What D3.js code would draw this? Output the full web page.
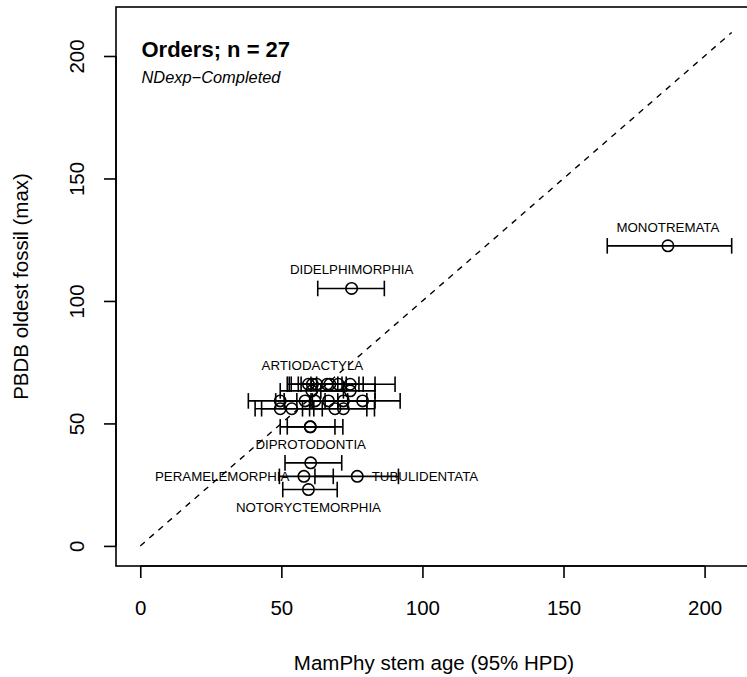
<!DOCTYPE html>
<html>
<head>
<meta charset="utf-8">
<script src="https://cdn.jsdelivr.net/npm/d3@7"></script>
<style>
  html, body { margin: 0; padding: 0; background: #fff; }
  svg { display: block; font-family: "Liberation Sans", Arial, Helvetica, sans-serif; }
</style>
</head>
<body>
<svg id="chart" width="747" height="677"></svg>
<script>
// Mammal orders: MamPhy stem age (mean and 95% HPD) vs. oldest PBDB fossil (max age, Ma).
// Only the outlying orders carry a printed name; the rest stay unlabelled.
const orders = [
  "MONOTREMATA", "DIDELPHIMORPHIA", "DIPROTODONTIA", "PERAMELEMORPHIA",
  "TUBULIDENTATA", "NOTORYCTEMORPHIA",
  "", "ARTIODACTYLA", "", "", "", "", "",
  "", "",
  "", "", "", "", "", "",
  "", "", "", "",
  "", ""
];
const stemAge = [
  187.0, 74.9, 60.4, 58.0,
  76.9, 59.6,
  59.6, 61.0, 62.5, 66.2, 67.2, 70.2, 74.4,
  60.8, 74.4,
  49.6, 58.4, 61.9, 66.7, 72.0, 78.8,
  49.6, 53.7, 69.0, 72.0,
  60.2, 60.3
];
const hpdLow = [
  165.5, 62.9, 51.3, 49.3,
  61.9, 50.5,
  52.1, 52.8, 53.5, 56.0, 57.0, 60.5, 62.5,
  49.6, 64.0,
  38.3, 48.0, 51.0, 55.5, 61.0, 65.5,
  40.7, 43.0, 57.5, 61.5,
  49.6, 52.1
];
const hpdHigh = [
  209.6, 86.5, 71.4, 68.4,
  91.5, 69.8,
  70.0, 71.5, 73.0, 77.5, 79.0, 83.2, 90.3,
  72.0, 83.2,
  60.5, 70.0, 73.5, 80.3, 83.2, 92.1,
  60.0, 64.5, 80.3, 83.0,
  69.0, 71.8
];
const fossilAge = [
  122.5, 105.1, 33.9, 28.4,
  28.4, 23.0,
  66.0, 66.0, 66.0, 66.0, 66.0, 66.0, 66.0,
  63.3, 63.3,
  59.2, 59.2, 59.2, 59.2, 59.2, 59.2,
  56.0, 56.0, 56.0, 56.0,
  48.6, 48.6
];
const xTicks = [0, 50, 100, 150, 200];
const yTicks = [0, 50, 100, 150, 200];

// Which side of its point each printed name sits on
const labelSide = {
  "MONOTREMATA": "top", "DIDELPHIMORPHIA": "top", "ARTIODACTYLA": "top",
  "DIPROTODONTIA": "top", "PERAMELEMORPHIA": "left",
  "TUBULIDENTATA": "right", "NOTORYCTEMORPHIA": "bottom"
};

const data = orders.map((name, i) => ({
  name, mean: stemAge[i], lo: hpdLow[i], hi: hpdHigh[i], fossil: fossilAge[i]
}));

const plot = { left: 116, top: 7, right: 752, bottom: 566 };
const x = d3.scaleLinear().domain([-8.6, 216.8]).range([plot.left, plot.right]);
const y = d3.scaleLinear().domain([-8.2, 220]).range([plot.bottom, plot.top]);

const svg = d3.select("#chart");
const ink = "#000";
const lw = 1.6;
const axisFont = 20.5;

// x axis
const gx = svg.append("g")
  .attr("transform", `translate(0,${plot.bottom})`)
  .call(d3.axisBottom(x).tickValues(xTicks).tickSize(12).tickSizeOuter(0).tickPadding(22));
gx.select(".domain").remove();
gx.selectAll("line").attr("stroke", ink).attr("stroke-width", lw);
gx.selectAll("text").attr("fill", ink).attr("font-size", axisFont)
  .attr("font-family", "Liberation Sans, Arial, sans-serif");
gx.append("line")
  .attr("x1", x(xTicks[0])).attr("x2", x(xTicks[xTicks.length - 1]))
  .attr("stroke", ink).attr("stroke-width", lw);

// y axis, labels turned parallel to the axis
const gy = svg.append("g")
  .attr("transform", `translate(${plot.left},0)`)
  .call(d3.axisLeft(y).tickValues(yTicks).tickSize(12).tickSizeOuter(0));
gy.select(".domain").remove();
gy.selectAll("line").attr("stroke", ink).attr("stroke-width", lw);
gy.selectAll("text")
  .attr("x", null).attr("dy", null)
  .attr("transform", "translate(-32,0) rotate(-90)")
  .attr("text-anchor", "middle")
  .attr("fill", ink).attr("font-size", axisFont)
  .attr("font-family", "Liberation Sans, Arial, sans-serif");
gy.append("line")
  .attr("y1", y(yTicks[0])).attr("y2", y(yTicks[yTicks.length - 1]))
  .attr("stroke", ink).attr("stroke-width", lw);

// axis titles
svg.append("text")
  .attr("x", (plot.left + plot.right) / 2).attr("y", 669.5)
  .attr("text-anchor", "middle").attr("font-size", axisFont).attr("fill", ink)
  .text("MamPhy stem age (95% HPD)");
svg.append("text")
  .attr("transform", `translate(28,${(plot.top + plot.bottom) / 2}) rotate(-90)`)
  .attr("text-anchor", "middle").attr("font-size", axisFont).attr("fill", ink)
  .text("PBDB oldest fossil (max)");

// 1:1 reference line
const lineEnd = d3.max(hpdHigh);
svg.append("line")
  .attr("x1", x(0)).attr("y1", y(0))
  .attr("x2", x(lineEnd)).attr("y2", y(lineEnd))
  .attr("stroke", ink).attr("stroke-width", 1.4)
  .attr("stroke-dasharray", "6,6");

// HPD bars with end caps
const capHalf = 7.8;
const bars = svg.append("g").attr("stroke", ink).attr("stroke-width", lw).attr("fill", "none");
bars.selectAll("line.hpd").data(data).join("line").attr("class", "hpd")
  .attr("x1", d => x(d.lo)).attr("x2", d => x(d.hi))
  .attr("y1", d => y(d.fossil)).attr("y2", d => y(d.fossil));
bars.selectAll("line.capL").data(data).join("line").attr("class", "capL")
  .attr("x1", d => x(d.lo)).attr("x2", d => x(d.lo))
  .attr("y1", d => y(d.fossil) - capHalf).attr("y2", d => y(d.fossil) + capHalf);
bars.selectAll("line.capR").data(data).join("line").attr("class", "capR")
  .attr("x1", d => x(d.hi)).attr("x2", d => x(d.hi))
  .attr("y1", d => y(d.fossil) - capHalf).attr("y2", d => y(d.fossil) + capHalf);

// open circles at the mean stem age
svg.append("g").selectAll("circle").data(data).join("circle")
  .attr("cx", d => x(d.mean)).attr("cy", d => y(d.fossil)).attr("r", 5.7)
  .attr("fill", "none").attr("stroke", ink).attr("stroke-width", lw);

// order names
const labelFont = 13.3;
svg.append("g").selectAll("text").data(data.filter(d => d.name)).join("text")
  .attr("font-size", labelFont).attr("fill", ink)
  .each(function (d) {
    const side = labelSide[d.name];
    const px = x(d.mean), py = y(d.fossil);
    const t = d3.select(this);
    if (side === "top") t.attr("x", px).attr("y", py - 14).attr("text-anchor", "middle");
    else if (side === "bottom") t.attr("x", px).attr("y", py + 22).attr("text-anchor", "middle");
    else if (side === "left") t.attr("x", px - 14.5).attr("y", py + 4.5).attr("text-anchor", "end");
    else t.attr("x", px + 14.5).attr("y", py + 4.5).attr("text-anchor", "start");
  })
  .text(d => d.name);

// panel titles
svg.append("text").attr("x", 141.5).attr("y", 56.5)
  .attr("font-size", 22).attr("font-weight", "bold").attr("fill", ink)
  .text("Orders; n = 27");
svg.append("text").attr("x", 141.5).attr("y", 82.5)
  .attr("font-size", 16.4).attr("font-style", "italic").attr("fill", ink)
  .text("NDexp\u2212Completed");

// plot frame
svg.append("rect")
  .attr("x", plot.left).attr("y", plot.top)
  .attr("width", plot.right - plot.left).attr("height", plot.bottom - plot.top)
  .attr("fill", "none").attr("stroke", ink).attr("stroke-width", lw);
</script>
</body>
</html>
